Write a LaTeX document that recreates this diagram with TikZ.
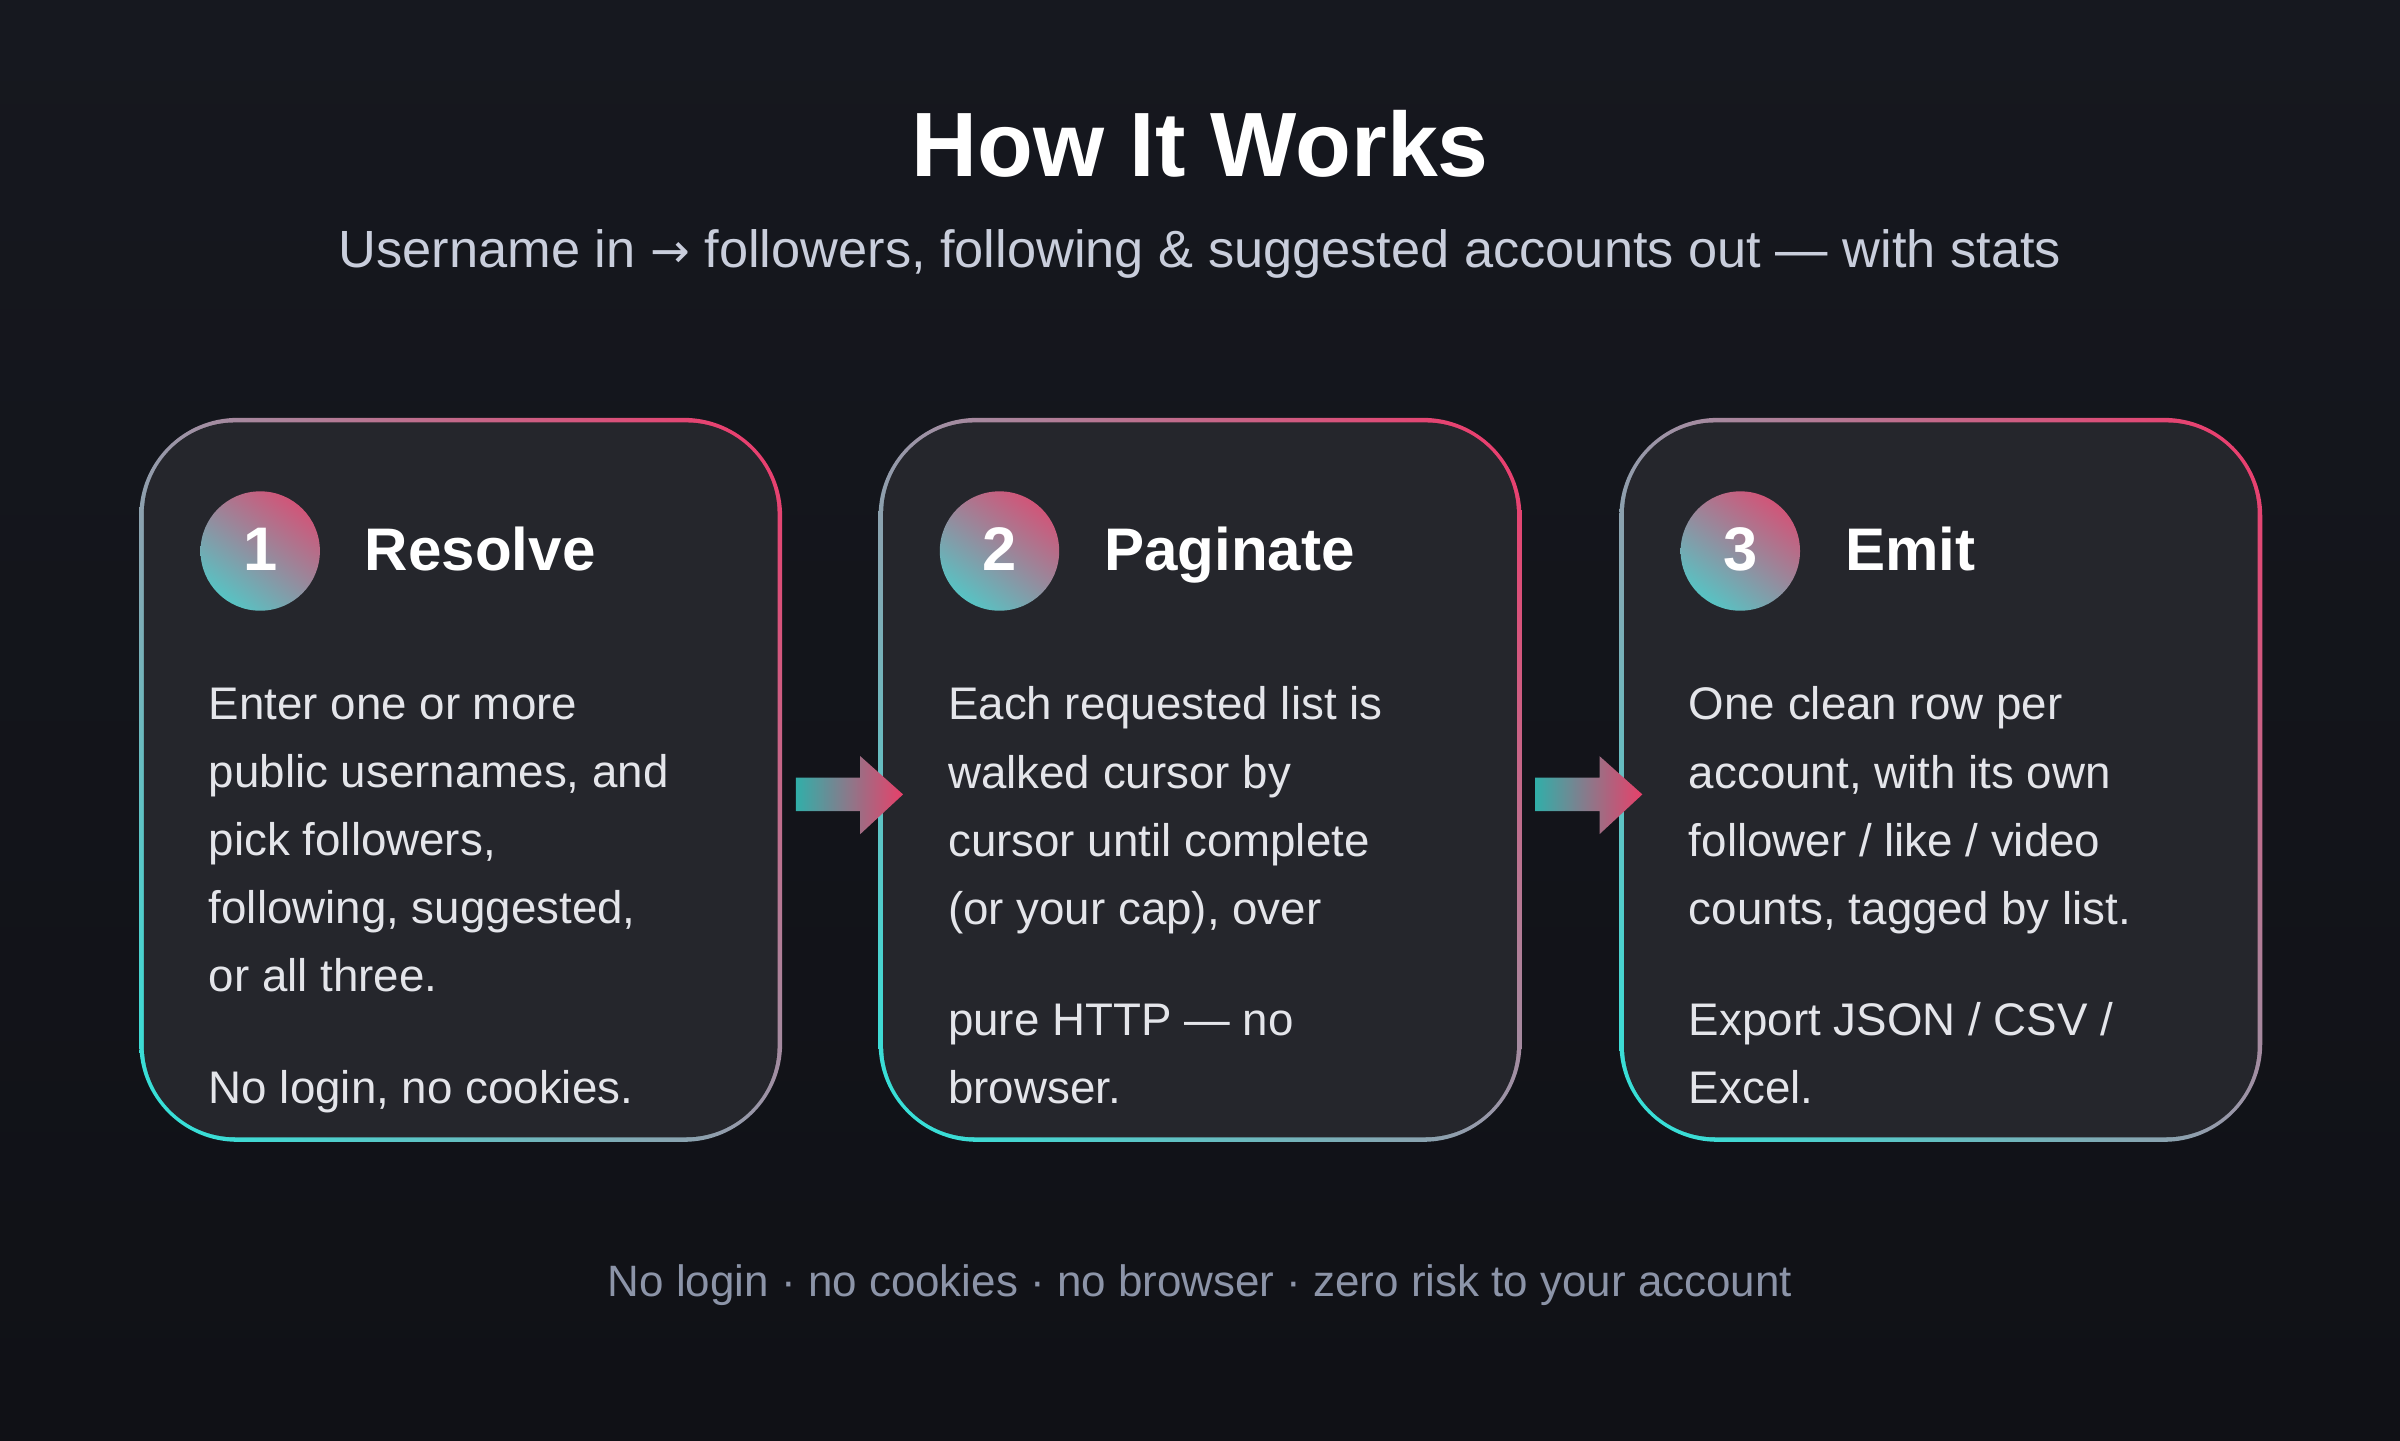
\documentclass[tikz,border=0pt]{standalone}
\usepackage{fontspec}
\usetikzlibrary{shadings}
\setmainfont{Liberation Sans}
\newfontfamily\symf{DejaVu Sans}
\begin{document}
\definecolor{bgA}{HTML}{16181F}
\definecolor{bgB}{HTML}{101116}
\definecolor{cardf}{HTML}{25262C}
\definecolor{pinkc}{HTML}{F0386A}
\definecolor{cyanc}{HTML}{2EE6DC}
\definecolor{midc}{HTML}{9A97A8}
\definecolor{cpink}{HTML}{E8406A}
\definecolor{ccyan}{HTML}{3EDAD3}
\definecolor{bodyc}{HTML}{E4E5EA}
\definecolor{subc}{HTML}{C9CEDC}
\definecolor{footc}{HTML}{8C94A8}
\begin{tikzpicture}[x=0.015306cm,y=-0.015306cm,
  body/.style={anchor=base west,align=left,text=bodyc,inner sep=0pt,font=\fontsize{13}{19.4}\selectfont},
  ttl/.style={anchor=base west,text=white,inner sep=0pt,font=\fontsize{17.1}{19}\selectfont\bfseries},
  num/.style={anchor=base,text=white,inner sep=0pt,font=\fontsize{17.5}{19}\selectfont\bfseries},
  gradb/.style={upper right=pinkc,lower left=cyanc,upper left=midc,lower right=midc},
  gradc/.style={upper right=cpink,lower left=ccyan,upper left=cpink!60!ccyan,lower right=cpink!45!ccyan},
  arr/.style={left color=ccyan!80!black,right color=cpink}]
\useasboundingbox (0,0) rectangle (1568,941);
\shade[top color=bgA,bottom color=bgB] (0,0) rectangle (1568,941);
\node[text=white,font=\fontsize{26}{30}\selectfont\bfseries,anchor=base] (title) at (784,115) {How It Works};
\node[text=subc,font=\fontsize{14.9}{17}\selectfont,anchor=base] (sub) at (784,175) {Username in {\symf\fontsize{13.5}{17}\selectfont →} followers, following \& suggested accounts out — with stats};
\node[text=footc,font=\fontsize{12.5}{15}\selectfont,anchor=base] (foot) at (784,847) {No login · no cookies · no browser · zero risk to your account};
\foreach \i/\x in {1/91,2/574,3/1058}{
  \shade[gradb,rounded corners=28] (\x,273) rectangle (\x+420,746);
  \fill[cardf,rounded corners=26] (\x+3,276) rectangle (\x+417,743);
  \shade[gradc] (\x+79,360) circle (39);
  \node[num] (n\i) at (\x+79,373) {\i};
}
\node[ttl] (t1) at (238,373) {Resolve};
\node[ttl] (t2) at (721,373) {Paginate};
\node[ttl] (t3) at (1205,373) {Emit};
\node[body] (b1) at (136,648) {Enter one or more\\public usernames, and\\pick followers,\\following, suggested,\\or all three.};
\node[body] (c1) at (136,721) {No login, no cookies.};
\node[body] (b2) at (619,604) {Each requested list is\\walked cursor by\\cursor until complete\\(or your cap), over};
\node[body] (c2) at (619,721) {pure HTTP — no\\browser.};
\node[body] (b3) at (1103,604) {One clean row per\\account, with its own\\follower / like / video\\counts, tagged by list.};
\node[body] (c3) at (1103,721) {Export JSON / CSV /\\Excel.};
\foreach \x in {520,1003}{
  \shade[arr] (\x,508) -- (\x+42,508) -- (\x+42,494) -- (\x+70,519) -- (\x+42,545) -- (\x+42,530) -- (\x,530) -- cycle;
}
\end{tikzpicture}
\end{document}
